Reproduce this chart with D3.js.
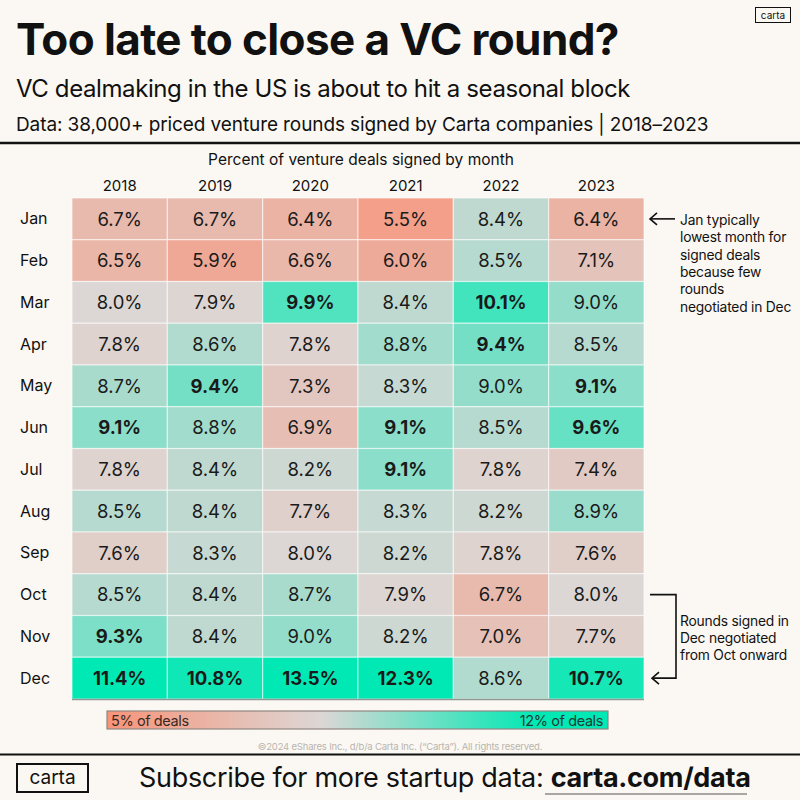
<!DOCTYPE html>
<html>
  <head>
    <meta charset="utf-8">
    <script src="https://d3js.org/d3.v7.min.js"></script>
    <title>Too late to close a VC round?</title>
    <style>
      body { margin: 0; background: #fbf8f3; }
      svg { display: block; font-family: "Inter", "Noto Sans", sans-serif; }
    </style>
  </head>
  <body>
    <svg id="chart" width="800" height="800"></svg>
    <script>
      // data
      var years = ["2018", "2019", "2020", "2021", "2022", "2023"];
      var months = ["Jan", "Feb", "Mar", "Apr", "May", "Jun", "Jul", "Aug", "Sep", "Oct", "Nov", "Dec"];
      var y2018 = [6.7, 6.5, 8.0, 7.8, 8.7, 9.1, 7.8, 8.5, 7.6, 8.5, 9.3, 11.4];
      var y2019 = [6.7, 5.9, 7.9, 8.6, 9.4, 8.8, 8.4, 8.4, 8.3, 8.4, 8.4, 10.8];
      var y2020 = [6.4, 6.6, 9.9, 7.8, 7.3, 6.9, 8.2, 7.7, 8.0, 8.7, 9.0, 13.5];
      var y2021 = [5.5, 6.0, 8.4, 8.8, 8.3, 9.1, 9.1, 8.3, 8.2, 7.9, 8.2, 12.3];
      var y2022 = [8.4, 8.5, 10.1, 9.4, 9.0, 8.5, 7.8, 8.2, 7.8, 6.7, 7.0, 8.6];
      var y2023 = [6.4, 7.1, 9.0, 8.5, 9.1, 9.6, 7.4, 8.9, 7.6, 8.0, 7.7, 10.7];
      var legendStops = [5, 12];

      var series = [y2018, y2019, y2020, y2021, y2022, y2023];
      var cells = [];
      years.forEach(function (yr, i) {
        months.forEach(function (m, j) {
          cells.push({ year: yr, month: m, value: series[i][j] });
        });
      });

      var svg = d3.select("#chart");

      svg.append("rect").attr("width", 800).attr("height", 800).attr("fill", "#fbf8f3");

      // header
      svg.append("text").attr("x", 16).attr("y", 55)
        .attr("font-size", 44).attr("font-weight", 700).attr("letter-spacing", -0.6)
        .attr("fill", "#111").text("Too late to close a VC round?");
      svg.append("text").attr("x", 16).attr("y", 97)
        .attr("font-size", 24).attr("fill", "#111").attr("letter-spacing", -0.4)
        .text("VC dealmaking in the US is about to hit a seasonal block");
      svg.append("text").attr("x", 16).attr("y", 131)
        .attr("font-size", 19).attr("fill", "#111").attr("letter-spacing", -0.1)
        .text("Data: 38,000+ priced venture rounds signed by Carta companies | 2018\u20132023");
      svg.append("line").attr("x1", 0).attr("x2", 800).attr("y1", 143).attr("y2", 143)
        .attr("stroke", "#111").attr("stroke-width", 2.5);

      // small logo top right
      svg.append("rect").attr("x", 755.5).attr("y", 7.5).attr("width", 35).attr("height", 15)
        .attr("fill", "none").attr("stroke", "#111").attr("stroke-width", 1);
      svg.append("text").attr("x", 773).attr("y", 18.5).attr("text-anchor", "middle")
        .attr("font-size", 10).attr("fill", "#111").text("carta");

      // heatmap
      var x = d3.scaleBand().domain(years).range([72, 644]);
      var y = d3.scaleBand().domain(months).range([198, 699]);
      var color = d3.scaleLinear()
        .domain([5, 8, 11])
        .range(["#f7947a", "#dcd7d5", "#00e9b4"])
        .clamp(true);

      svg.append("text").attr("x", 361).attr("y", 165).attr("text-anchor", "middle")
        .attr("font-size", 15.5).attr("fill", "#111")
        .text("Percent of venture deals signed by month");

      var yearAxis = svg.append("g")
        .attr("transform", "translate(0,198)")
        .call(d3.axisTop(x).tickSize(0).tickPadding(7));
      yearAxis.select(".domain").remove();
      yearAxis.selectAll("text").attr("font-size", 15).attr("fill", "#111")
        .attr("font-family", "Inter, sans-serif");

      svg.append("g").selectAll("text")
        .data(months).enter().append("text")
        .attr("x", 20)
        .attr("y", function (d) { return y(d) + y.bandwidth() / 2; })
        .attr("dy", "0.35em")
        .attr("font-size", 16).attr("fill", "#111")
        .text(function (d) { return d; });

      var cell = svg.append("g").selectAll("g")
        .data(cells).enter().append("g");

      cell.append("rect")
        .attr("x", function (d) { return x(d.year); })
        .attr("y", function (d) { return y(d.month); })
        .attr("width", x.bandwidth())
        .attr("height", y.bandwidth())
        .attr("fill", function (d) { return color(d.value); })
        .attr("stroke", "rgba(255,255,255,0.55)")
        .attr("stroke-width", 1.2);

      cell.append("text")
        .attr("x", function (d) { return x(d.year) + x.bandwidth() / 2; })
        .attr("y", function (d) { return y(d.month) + y.bandwidth() / 2; })
        .attr("dy", "0.36em")
        .attr("text-anchor", "middle")
        .attr("font-size", 18.5)
        .attr("font-weight", function (d) { return d.value >= 9.1 ? 700 : 400; })
        .attr("fill", "#1a1a1a")
        .text(function (d) { return d.value.toFixed(1) + "%"; });

      svg.append("line").attr("x1", 72).attr("x2", 644).attr("y1", 699.5).attr("y2", 699.5)
        .attr("stroke", "#8c9995").attr("stroke-width", 1.5);

      // annotations
      var ann = svg.append("g").attr("stroke", "#111").attr("stroke-width", 1.6).attr("fill", "none");
      var jy = y("Jan") + y.bandwidth() / 2;
      ann.append("line").attr("x1", 650).attr("x2", 675).attr("y1", jy).attr("y2", jy);
      ann.append("path").attr("d", d3.line()([[657, jy - 6], [650, jy], [657, jy + 6]]));

      var oy = y("Oct") + y.bandwidth() / 2, dy = y("Dec") + y.bandwidth() / 2;
      ann.append("path").attr("d", d3.line()([[650, oy], [676, oy], [676, dy], [652, dy]]));
      ann.append("path").attr("d", d3.line()([[659, dy - 6], [652, dy], [659, dy + 6]]));

      var note1 = ["Jan typically", "lowest month for", "signed deals", "because few", "rounds", "negotiated in Dec"];
      svg.append("g").selectAll("text").data(note1).enter().append("text")
        .attr("x", 680).attr("y", function (d, i) { return 225 + i * 17.3; })
        .attr("font-size", 13.8).attr("fill", "#111").attr("letter-spacing", -0.2)
        .text(function (d) { return d; });

      var note2 = ["Rounds signed in", "Dec negotiated", "from Oct onward"];
      svg.append("g").selectAll("text").data(note2).enter().append("text")
        .attr("x", 680).attr("y", function (d, i) { return 625.5 + i * 17.3; })
        .attr("font-size", 13.8).attr("fill", "#111").attr("letter-spacing", -0.2)
        .text(function (d) { return d; });

      // legend
      var lx = d3.scaleLinear().domain(legendStops).range([107, 608]);
      var grad = svg.append("defs").append("linearGradient").attr("id", "lg")
        .attr("x1", "0%").attr("x2", "100%");
      d3.range(5, 12.01, 0.5).forEach(function (v) {
        grad.append("stop")
          .attr("offset", ((v - 5) / 7 * 100) + "%")
          .attr("stop-color", color(v));
      });
      svg.append("rect").attr("x", lx(5)).attr("y", 711).attr("width", lx(12) - lx(5)).attr("height", 18)
        .attr("fill", "url(#lg)").attr("stroke", "#8f8680").attr("stroke-width", 1.2);
      svg.append("text").attr("x", lx(5) + 4).attr("y", 725.5).attr("font-size", 14.5)
        .attr("fill", "#3b2a22").attr("letter-spacing", -0.4).text("5% of deals");
      svg.append("text").attr("x", lx(12) - 5).attr("y", 725.5).attr("text-anchor", "end")
        .attr("font-size", 14.5).attr("fill", "#1f3a33").attr("letter-spacing", -0.4).text("12% of deals");

      svg.append("text").attr("x", 400).attr("y", 750).attr("text-anchor", "middle")
        .attr("font-size", 9.5).attr("fill", "#b9b4ae").attr("letter-spacing", -0.2)
        .text("\u00a92024 eShares Inc., d/b/a Carta Inc. (\u201cCarta\u201d). All rights reserved.");

      // footer
      svg.append("line").attr("x1", 0).attr("x2", 800).attr("y1", 754.5).attr("y2", 754.5)
        .attr("stroke", "#111").attr("stroke-width", 2);
      svg.append("rect").attr("x", 17).attr("y", 764).attr("width", 71).attr("height", 28)
        .attr("fill", "none").attr("stroke", "#111").attr("stroke-width", 2);
      svg.append("text").attr("x", 52.5).attr("y", 784).attr("text-anchor", "middle")
        .attr("font-size", 19).attr("fill", "#111").text("carta");
      var sub = svg.append("text").attr("x", 139).attr("y", 787)
        .attr("font-size", 27).attr("fill", "#111").attr("letter-spacing", -0.3);
      sub.append("tspan").text("Subscribe for more startup data: ");
      sub.append("tspan").attr("font-weight", 700).text("carta.com/data");
      svg.append("line").attr("x1", 545).attr("x2", 747).attr("y1", 794).attr("y2", 794)
        .attr("stroke", "#555").attr("stroke-width", 1.2);
    </script>
  </body>
</html>
